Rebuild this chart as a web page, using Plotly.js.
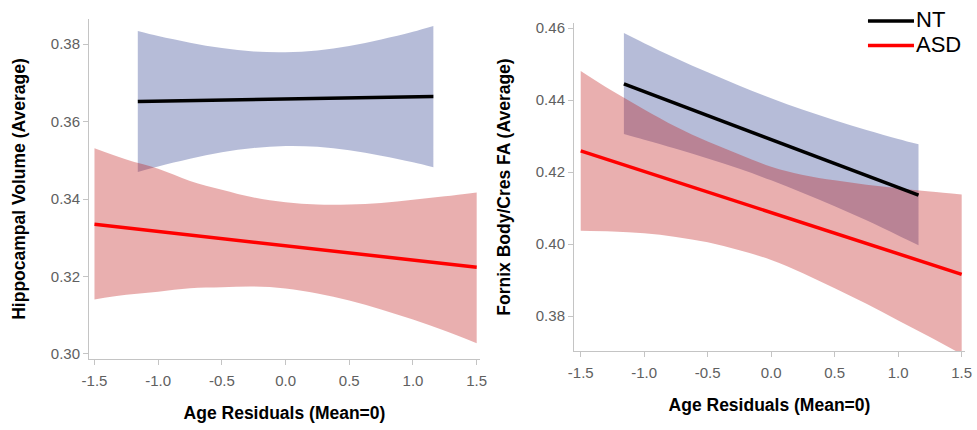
<!DOCTYPE html>
<html><head><meta charset="utf-8">
<script src="https://cdn.plot.ly/plotly-3.0.1.min.js"></script>
<style>html,body{margin:0;padding:0;background:#fff}#chart{width:977px;height:430px}</style>
</head><body><div id="chart"></div><script>
// ---- Left panel: Hippocampal Volume ----
const hipNTfitX = [-1.16, 1.16];
const hipNTfitY = [0.3652, 0.3665];
const hipNTbandX = [-1.16, -1.0, -0.75, -0.5, -0.25, 0.0, 0.25, 0.5, 0.75, 1.0, 1.16];
const hipNTupper = [0.3834, 0.3821, 0.3804, 0.3790, 0.3781, 0.3779, 0.3784, 0.3795, 0.3812, 0.3832, 0.3847];
const hipNTlower = [0.3470, 0.3484, 0.3504, 0.3521, 0.3532, 0.3537, 0.3535, 0.3526, 0.3512, 0.3495, 0.3482];

const hipASDfitX = [-1.5, 1.5];
const hipASDfitY = [0.3335, 0.3224];
const hipASDbandX = [-1.5, -1.25, -1.0, -0.75, -0.5, -0.25, 0.0, 0.25, 0.5, 0.75, 1.0, 1.25, 1.5];
const hipASDupper = [0.3531, 0.3502, 0.3478, 0.3447, 0.3424, 0.3404, 0.3392, 0.3386, 0.3386, 0.3390, 0.3398, 0.3407, 0.3417];
const hipASDlower = [0.3141, 0.3153, 0.3161, 0.3170, 0.3172, 0.3174, 0.3169, 0.3156, 0.3138, 0.3115, 0.3089, 0.3060, 0.3028];

// ---- Right panel: Fornix Body/Cres FA ----
const fxNTfitX = [-1.16, 1.16];
const fxNTfitY = [0.4445, 0.4136];
const fxNTbandX = [-1.16, -1.0, -0.75, -0.5, -0.25, 0.0, 0.25, 0.5, 0.75, 1.0, 1.16];
const fxNTupper = [0.4586, 0.4558, 0.4516, 0.4477, 0.4440, 0.4405, 0.4373, 0.4344, 0.4317, 0.4292, 0.4277];
const fxNTlower = [0.4306, 0.4290, 0.4265, 0.4238, 0.4209, 0.4177, 0.4142, 0.4105, 0.4066, 0.4024, 0.3997];

const fxASDfitX = [-1.5, 1.5];
const fxASDfitY = [0.4259, 0.3916];
const fxASDbandX = [-1.5, -1.25, -1.0, -0.75, -0.5, -0.25, 0.0, 0.25, 0.5, 0.75, 1.0, 1.25, 1.5];
const fxASDupper = [0.4481, 0.4425, 0.4374, 0.4326, 0.4285, 0.4249, 0.4215, 0.4192, 0.4177, 0.4165, 0.4155, 0.4146, 0.4138];
const fxASDlower = [0.4037, 0.4035, 0.4030, 0.4020, 0.4005, 0.3983, 0.3956, 0.3919, 0.3877, 0.3834, 0.3788, 0.3742, 0.3694];

// ---- Ticks ----
const xTickVals = [-1.5, -1.0, -0.5, 0.0, 0.5, 1.0, 1.5];
const xTickText = ['-1.5', '-1.0', '-0.5', '0.0', '0.5', '1.0', '1.5'];
const hipTickVals = [0.30, 0.32, 0.34, 0.36, 0.38];
const hipTickText = ['0.30', '0.32', '0.34', '0.36', '0.38'];
const fxTickVals = [0.38, 0.40, 0.42, 0.44, 0.46];
const fxTickText = ['0.38', '0.40', '0.42', '0.44', '0.46'];

const seriesNames = ['NT', 'ASD'];
const seriesColors = ['#000000', '#ff0000'];

const BLUE_FILL = 'rgba(40,60,140,0.34)';
const RED_FILL = 'rgba(190,20,20,0.34)';

function band(x, lo, hi, fill, xa, ya) {
  return [
    {x: x, y: lo, xaxis: xa, yaxis: ya, mode: 'lines', line: {width: 0, shape: 'spline', smoothing: 1}, showlegend: false, hoverinfo: 'skip'},
    {x: x, y: hi, xaxis: xa, yaxis: ya, mode: 'lines', line: {width: 0, shape: 'spline', smoothing: 1}, fill: 'tonexty', fillcolor: fill, showlegend: false, hoverinfo: 'skip'}
  ];
}
function fit(x, y, i, xa, ya) {
  return {x: x, y: y, xaxis: xa, yaxis: ya, mode: 'lines', name: seriesNames[i],
          line: {color: seriesColors[i], width: 3.5}, showlegend: false, hoverinfo: 'skip'};
}

const data = [].concat(
  band(hipNTbandX, hipNTlower, hipNTupper, BLUE_FILL, 'x', 'y'),
  band(hipASDbandX, hipASDlower, hipASDupper, RED_FILL, 'x', 'y'),
  band(fxNTbandX, fxNTlower, fxNTupper, BLUE_FILL, 'x2', 'y2'),
  band(fxASDbandX, fxASDlower, fxASDupper, RED_FILL, 'x2', 'y2'),
  [
    fit(hipNTfitX, hipNTfitY, 0, 'x', 'y'),
    fit(hipASDfitX, hipASDfitY, 1, 'x', 'y'),
    fit(fxNTfitX, fxNTfitY, 0, 'x2', 'y2'),
    fit(fxASDfitX, fxASDfitY, 1, 'x2', 'y2')
  ]
);

const tickFont = {family: 'Liberation Sans, Arial, sans-serif', size: 15, color: '#606060'};
const titleFont = {family: 'Liberation Sans, Arial, sans-serif', size: 17.5, color: '#000', weight: 'bold'};
const axisCommon = {
  showline: true, linecolor: '#c4c4c4', linewidth: 1,
  ticks: 'outside', ticklen: 5, tickcolor: '#c4c4c4', tickwidth: 1,
  showgrid: false, zeroline: false, automargin: false,
  tickfont: tickFont, fixedrange: true
};

// Legend (drawn at top right as in the original figure)
const legendRowsY = [0.9512, 0.8942];
const legendShapes = seriesNames.map((n, i) => ({
  type: 'line', xref: 'paper', yref: 'paper', x0: 0.8884, x1: 0.9355, y0: legendRowsY[i], y1: legendRowsY[i],
  line: {color: seriesColors[i], width: 3.5}
}));
const legendAnnots = seriesNames.map((n, i) => ({
  text: n, xref: 'paper', yref: 'paper', x: 0.9366, y: legendRowsY[i] + 0.003, xanchor: 'left', yanchor: 'middle',
  borderpad: 0,
  showarrow: false, font: {family: 'Liberation Sans, Arial, sans-serif', size: 22, color: '#000'}
}));

const layout = {
  width: 977, height: 430, autosize: false,
  margin: {l: 0, r: 0, t: 0, b: 0},
  paper_bgcolor: '#fff', plot_bgcolor: 'rgba(0,0,0,0)',
  showlegend: false,
  shapes: legendShapes,
  annotations: legendAnnots,
  xaxis: Object.assign({}, axisCommon, {domain: [0.0911, 0.4913], range: [-1.543, 1.526], anchor: 'y',
    tickvals: xTickVals, ticktext: xTickText, ticklabelstandoff: 3,
    title: {text: 'Age Residuals (Mean=0)', font: titleFont, standoff: 18}}),
  yaxis: Object.assign({}, axisCommon, {domain: [0.1651, 0.9558], range: [0.2987, 0.3865], anchor: 'x',
    tickvals: hipTickVals, ticktext: hipTickText,
    title: {text: 'Hippocampal Volume (Average)', font: titleFont, standoff: 20}}),
  xaxis2: Object.assign({}, axisCommon, {domain: [0.5875, 0.9877], range: [-1.553, 1.526], anchor: 'y2',
    tickvals: xTickVals, ticktext: xTickText, ticklabelstandoff: 3,
    title: {text: 'Age Residuals (Mean=0)', font: titleFont, standoff: 18}}),
  yaxis2: Object.assign({}, axisCommon, {domain: [0.1837, 0.9465], range: [0.3703, 0.4614], anchor: 'x2',
    tickvals: fxTickVals, ticktext: fxTickText,
    title: {text: 'Fornix Body/Cres FA (Average)', font: titleFont, standoff: 20}})
};

Plotly.newPlot('chart', data, layout, {displayModeBar: false, staticPlot: true});
</script></body></html>
